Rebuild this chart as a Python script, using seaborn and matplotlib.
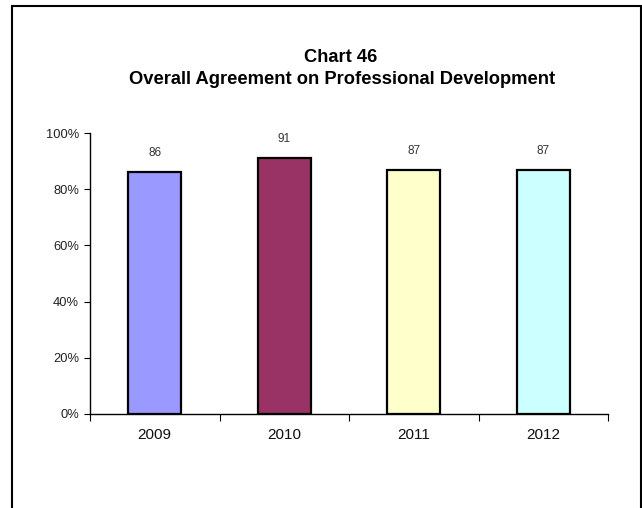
import matplotlib
matplotlib.use("Agg")
import matplotlib.pyplot as plt
import seaborn as sns
import pandas as pd
from matplotlib.patches import Rectangle
from matplotlib.ticker import FuncFormatter, FixedLocator

years = ["2009", "2010", "2011", "2012"]
values = [86, 91, 87, 87]
colors = ["#9999FF", "#993366", "#FFFFCC", "#CCFFFF"]
title_lines = ["Chart 46", "Overall Agreement on Professional Development"]
yticks = [0, 20, 40, 60, 80, 100]

sns.set_theme(style="white")
plt.rcParams["font.family"] = ["Liberation Sans", "DejaVu Sans"]
plt.rcParams["text.color"] = "black"
plt.rcParams["xtick.color"] = "black"
plt.rcParams["ytick.color"] = "black"

W, H = 642, 508
fig = plt.figure(figsize=(W / 100, H / 100), dpi=100)
ax = fig.add_axes([90 / W, 1 - 414 / H, (608 - 90) / W, (414 - 133) / H])

df = pd.DataFrame({"year": years, "value": values})
sns.barplot(data=df, x="year", y="value", hue="year", palette=colors,
            width=0.41, edgecolor="black", linewidth=1.6, legend=False, ax=ax,
            saturation=1)

ax.set_ylim(0, 100)
ax.set_xlim(-0.5, len(years) - 0.5)
ax.set_yticks(yticks)
ax.yaxis.set_major_formatter(FuncFormatter(lambda v, p: f"{v:.0f}%"))
ax.tick_params(axis="y", which="major", direction="out", length=4, width=0.8,
               color="black", labelsize=9.3, labelcolor="#222222", pad=4, left=True)
ax.tick_params(axis="x", which="major", length=0, labelsize=11,
               labelcolor="#111111", pad=10)
ax.xaxis.set_minor_locator(FixedLocator([i - 0.5 for i in range(len(years) + 1)]))
ax.tick_params(axis="x", which="minor", direction="out", length=5, width=0.8,
               color="black", bottom=True)
ax.set_xlabel("")
ax.set_ylabel("")
for s in ["top", "right"]:
    ax.spines[s].set_visible(False)
for s in ["left", "bottom"]:
    ax.spines[s].set_color("black")
    ax.spines[s].set_linewidth(1.0)

for i, v in enumerate(values):
    ax.annotate(f"{v}", (i, v), xytext=(0, 19), textcoords="offset pixels",
                ha="center", va="center", fontsize=8.5, color="#333333")

fig.text(341 / W, 1 - 62.5 / H, title_lines[0], ha="center", va="baseline",
         fontsize=13.2, fontweight="bold", color="black")
fig.text(342 / W, 1 - 84.5 / H, title_lines[1], ha="center", va="baseline",
         fontsize=13.2, fontweight="bold", color="black")

border = Rectangle((12 / W, -0.05), (641 - 12) / W, 1 - 6 / H + 0.05,
                   transform=fig.transFigure, fill=False, edgecolor="black",
                   linewidth=1.5)
fig.patches.append(border)

fig.savefig("out.png", dpi=100)
